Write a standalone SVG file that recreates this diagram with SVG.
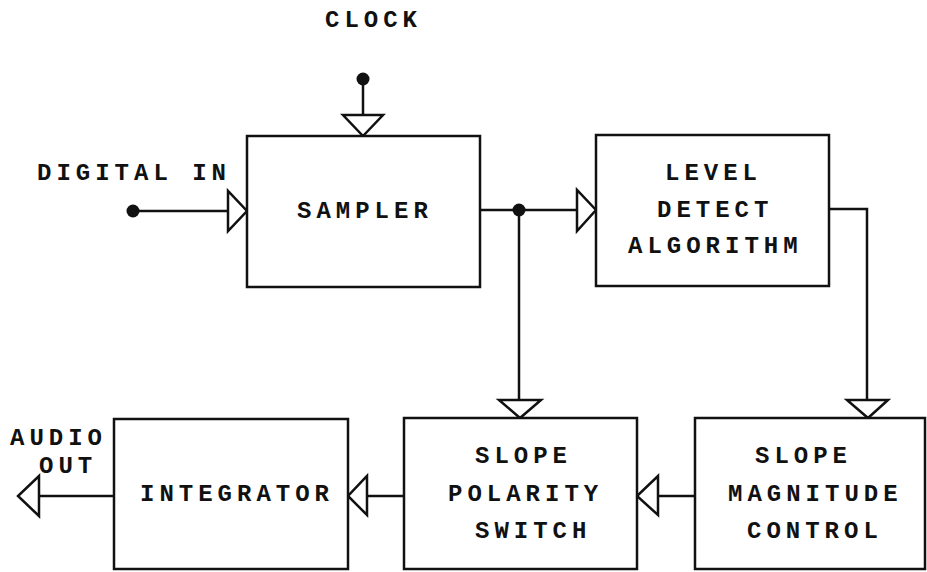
<svg xmlns="http://www.w3.org/2000/svg" width="927" height="572" viewBox="0 0 927 572">
<style>
.box{fill:#fff;stroke:#111;stroke-width:2.5}
.ln{fill:none;stroke:#111;stroke-width:2.5}
.ah{fill:#fff;stroke:#111;stroke-width:2.5;stroke-linejoin:miter}
.dot{fill:#111}
text{font-family:"Liberation Mono","DejaVu Sans Mono",monospace;font-weight:bold;font-size:24px;letter-spacing:5px;fill:#111}
</style>
<rect width="927" height="572" fill="#fff"/>
<g id="connectors">
  <line class="ln" x1="363" y1="79" x2="363" y2="136"/>
  <polygon class="ah" points="343,115 383,115 363,136"/>
  <line class="ln" x1="133" y1="211" x2="228" y2="211"/>
  <polygon class="ah" points="228,191 228,231 247,211"/>
  <line class="ln" x1="480" y1="210" x2="577" y2="210"/>
  <polygon class="ah" points="577,190 577,231 596,210"/>
  <line class="ln" x1="519" y1="210" x2="519" y2="400"/>
  <polygon class="ah" points="499,400 541,400 520,418"/>
  <polyline class="ln" points="829,209 867,209 867,400"/>
  <polygon class="ah" points="847,400 888,400 868,418"/>
  <line class="ln" x1="658" y1="496" x2="695" y2="496"/>
  <polygon class="ah" points="658,476 658,515 637,496"/>
  <line class="ln" x1="367" y1="496" x2="404" y2="496"/>
  <polygon class="ah" points="367,476 367,515 348,496"/>
  <line class="ln" x1="39" y1="496" x2="114" y2="496"/>
  <polygon class="ah" points="39,476 39,516 18,496"/>
  <circle class="dot" cx="363" cy="79" r="6.5"/>
  <circle class="dot" cx="133" cy="211" r="6.5"/>
  <circle class="dot" cx="519" cy="210" r="6.5"/>
</g>
<g id="clock-label"><text x="325" y="27">CLOCK</text></g>
<g id="digital-in-label"><text x="37" y="180">DIGITAL IN</text></g>
<g id="audio-out-label"><text x="10" y="445">AUDIO</text><text x="39" y="473">OUT</text></g>
<g id="sampler">
  <rect class="box" x="247" y="136" width="233" height="151"/>
  <text x="297" y="218">SAMPLER</text>
</g>
<g id="level-detect">
  <rect class="box" x="596" y="135" width="233" height="151"/>
  <text x="665" y="180">LEVEL</text>
  <text x="657" y="217">DETECT</text>
  <text x="628" y="253">ALGORITHM</text>
</g>
<g id="integrator">
  <rect class="box" x="114" y="419" width="234" height="150"/>
  <text x="140" y="501">INTEGRATOR</text>
</g>
<g id="slope-polarity">
  <rect class="box" x="404" y="418" width="233" height="151"/>
  <text x="475" y="463">SLOPE</text>
  <text x="448" y="501">POLARITY</text>
  <text x="475" y="538">SWITCH</text>
</g>
<g id="slope-magnitude">
  <rect class="box" x="695" y="418" width="230" height="151"/>
  <text x="755" y="463">SLOPE</text>
  <text x="728" y="501">MAGNITUDE</text>
  <text x="747" y="538">CONTROL</text>
</g>
</svg>
